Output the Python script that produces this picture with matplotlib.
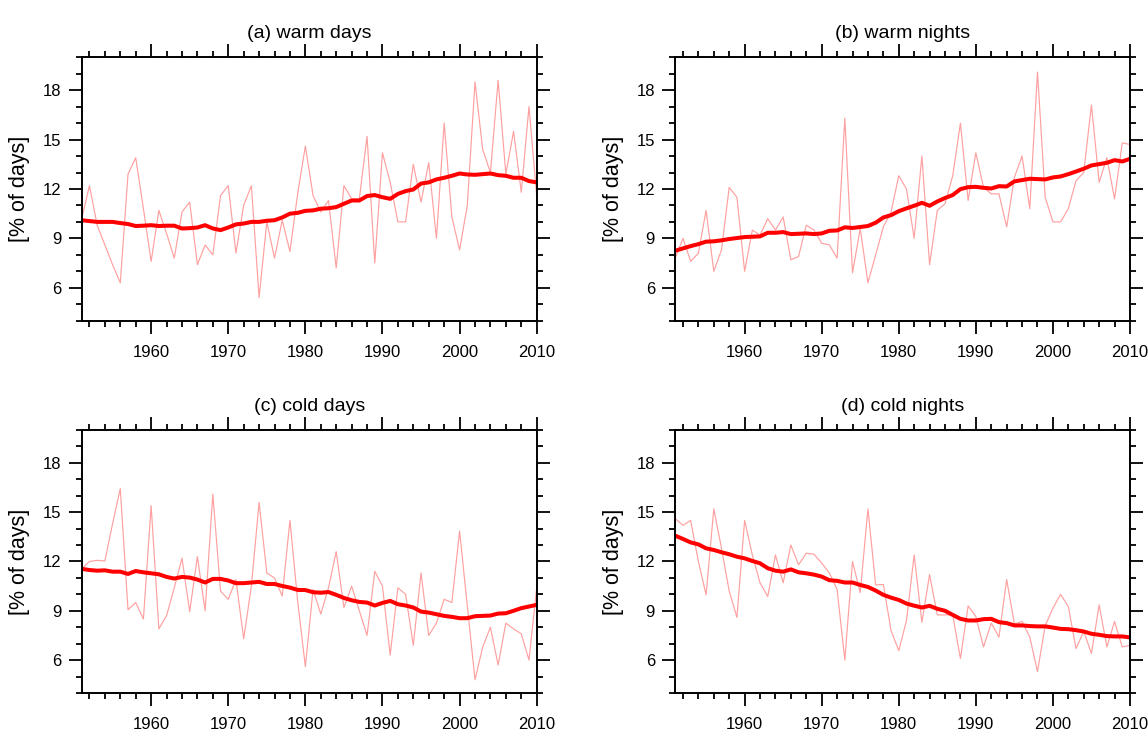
import numpy as np
import matplotlib
matplotlib.use("Agg")
import matplotlib.pyplot as plt
from matplotlib.ticker import MultipleLocator

plt.rcParams['font.family'] = ['Liberation Sans', 'DejaVu Sans']

years = np.arange(1951, 2011)

# (a) warm days
warm_days = [10.2, 12.2, 9.8, 8.6, 7.4, 6.3, 12.9, 13.9, 10.8, 7.6,
             10.7, 9.3, 7.8, 10.6, 11.2, 7.4, 8.6, 8.0, 11.6, 12.2,
             8.1, 11.0, 12.2, 5.4, 10.0, 7.8, 10.1, 8.2, 11.7, 14.6,
             11.6, 10.6, 11.3, 7.2, 12.2, 11.4, 11.4, 15.2, 7.5, 14.2,
             12.4, 10.0, 10.0, 13.5, 11.2, 13.6, 9.0, 16.0, 10.3, 8.3,
             11.0, 18.5, 14.4, 13.0, 18.6, 12.9, 15.5, 11.8, 17.0, 11.6]
warm_days_smooth = [10.1, 10.05, 10.0, 10.0, 10.0, 9.93, 9.87, 9.75, 9.77, 9.8,
                    9.75, 9.77, 9.77, 9.6, 9.62, 9.66, 9.8, 9.6, 9.5, 9.66,
                    9.85, 9.9, 10.0, 10.0, 10.07, 10.1, 10.27, 10.5, 10.55, 10.67,
                    10.7, 10.8, 10.83, 10.9, 11.1, 11.3, 11.3, 11.57, 11.63, 11.5,
                    11.4, 11.7, 11.87, 11.97, 12.33, 12.4, 12.58, 12.68, 12.8, 12.94,
                    12.88, 12.86, 12.9, 12.94, 12.84, 12.8, 12.68, 12.68, 12.48, 12.4]

# (b) warm nights
warm_nights = [7.8, 9.0, 7.6, 8.1, 10.7, 7.0, 8.3, 12.1, 11.5, 7.0,
               9.5, 9.2, 10.2, 9.5, 10.3, 7.7, 7.9, 9.8, 9.5, 8.7,
               8.6, 7.8, 16.3, 6.9, 9.6, 6.3, 8.0, 9.7, 10.6, 12.8,
               12.0, 9.0, 14.0, 7.4, 10.7, 11.1, 12.8, 16.0, 11.3, 14.2,
               12.1, 11.7, 11.7, 9.7, 12.7, 14.0, 10.8, 19.1, 11.5, 10.0,
               10.0, 10.8, 12.5, 13.0, 17.1, 12.4, 13.9, 11.4, 14.8, 14.7]
warm_nights_smooth = [8.25, 8.39, 8.53, 8.65, 8.8, 8.82, 8.88, 8.96, 9.02, 9.08,
                      9.1, 9.12, 9.34, 9.34, 9.38, 9.26, 9.28, 9.3, 9.26, 9.3,
                      9.46, 9.48, 9.67, 9.63, 9.69, 9.75, 9.95, 10.27, 10.41, 10.65,
                      10.82, 10.98, 11.16, 10.98, 11.24, 11.45, 11.63, 11.99, 12.11, 12.13,
                      12.07, 12.03, 12.17, 12.15, 12.46, 12.54, 12.62, 12.6, 12.58, 12.7,
                      12.76, 12.9, 13.06, 13.23, 13.43, 13.51, 13.59, 13.75, 13.67, 13.83]

# (c) cold days
cold_days = [11.55, 12.0, 12.07, 12.03, 14.3, 16.44, 9.06, 9.5, 8.5, 15.4,
             7.9, 8.7, 10.4, 12.2, 8.95, 12.3, 9.0, 16.1, 10.2, 9.7,
             10.9, 7.3, 10.5, 15.6, 11.3, 11.0, 9.9, 14.5, 9.6, 5.6,
             10.3, 8.8, 10.4, 12.6, 9.2, 10.5, 9.0, 7.5, 11.4, 10.5,
             6.3, 10.4, 10.0, 6.9, 11.3, 7.5, 8.25, 9.7, 9.5, 13.85,
             9.3, 4.8, 6.8, 8.0, 5.7, 8.25, 7.9, 7.6, 6.0, 10.4]
cold_days_smooth = [11.55, 11.48, 11.44, 11.46, 11.38, 11.38, 11.24, 11.42, 11.34, 11.28,
                    11.22, 11.06, 10.96, 11.06, 11.02, 10.9, 10.72, 10.94, 10.94, 10.84,
                    10.68, 10.68, 10.72, 10.76, 10.63, 10.63, 10.51, 10.41, 10.27, 10.26,
                    10.13, 10.1, 10.14, 9.97, 9.78, 9.64, 9.54, 9.5, 9.32, 9.48,
                    9.6, 9.4, 9.32, 9.2, 8.95, 8.89, 8.79, 8.69, 8.63, 8.55,
                    8.55, 8.67, 8.69, 8.71, 8.83, 8.85, 9.0, 9.16, 9.26, 9.36]

# (d) cold nights
cold_nights = [14.6, 14.2, 14.5, 12.0, 9.97, 15.2, 12.8, 10.2, 8.6, 14.5,
               12.4, 10.7, 9.87, 12.4, 10.7, 13.0, 11.8, 12.5, 12.44, 11.9,
               11.3, 10.3, 6.0, 12.0, 10.1, 15.2, 10.57, 10.6, 7.8, 6.57,
               8.4, 12.4, 8.3, 11.2, 8.75, 8.75, 8.75, 6.1, 9.3, 8.65,
               6.8, 8.25, 7.4, 10.9, 8.2, 8.35, 7.4, 5.3, 8.1, 9.16,
               10.0, 9.26, 6.7, 7.74, 6.4, 9.36, 6.8, 8.35, 6.8, 6.9]
cold_nights_smooth = [13.57, 13.37, 13.16, 13.04, 12.8, 12.7, 12.56, 12.44, 12.29, 12.19,
                      12.03, 11.89, 11.59, 11.44, 11.38, 11.52, 11.34, 11.28, 11.2, 11.08,
                      10.86, 10.82, 10.72, 10.72, 10.57, 10.45, 10.23, 9.97, 9.8, 9.66,
                      9.44, 9.31, 9.2, 9.3, 9.12, 9.0, 8.75, 8.51, 8.41, 8.41,
                      8.49, 8.51, 8.31, 8.25, 8.11, 8.11, 8.07, 8.05, 8.05, 7.98,
                      7.9, 7.88, 7.82, 7.74, 7.6, 7.54, 7.46, 7.44, 7.44, 7.38]

titles = ["(a) warm days", "(b) warm nights", "(c) cold days", "(d) cold nights"]
series = [(warm_days, warm_days_smooth), (warm_nights, warm_nights_smooth),
          (cold_days, cold_days_smooth), (cold_nights, cold_nights_smooth)]

# axes boxes in figure fractions [left, bottom, width, height]
boxes = [[0.0712, 0.5631, 0.3963, 0.3589],
         [0.5882, 0.5631, 0.3961, 0.3589],
         [0.0712, 0.0559, 0.3963, 0.3583],
         [0.5882, 0.0559, 0.3961, 0.3583]]

fig = plt.figure(figsize=(11.48, 7.34), dpi=100)

for box, title, (raw, smooth) in zip(boxes, titles, series):
    ax = fig.add_axes(box)
    ax.plot(years, raw, color='#ffa0a0', lw=0.85)
    ax.plot(years, smooth, color='red', lw=2.9, solid_joinstyle='round')
    ax.set_xlim(1951, 2010)
    ax.set_ylim(4, 20)
    ax.xaxis.set_major_locator(MultipleLocator(10))
    ax.xaxis.set_minor_locator(MultipleLocator(2))
    ax.set_yticks([6, 9, 12, 15, 18])
    ax.yaxis.set_minor_locator(MultipleLocator(1))
    ax.tick_params(which='both', direction='out', top=True, right=True,
                   width=1.3, colors='black')
    ax.tick_params(which='major', length=9.5, labelsize=12)
    ax.tick_params(which='minor', length=4.5)
    ax.tick_params(axis='x', which='major', pad=8)
    ax.tick_params(axis='y', which='major', pad=5)
    for sp in ax.spines.values():
        sp.set_linewidth(1.4)
    ax.set_ylabel("[% of days]", fontsize=15.5, labelpad=9)
    ax.set_title(title, fontsize=14, pad=14)

fig.savefig("out.png", dpi=100)
